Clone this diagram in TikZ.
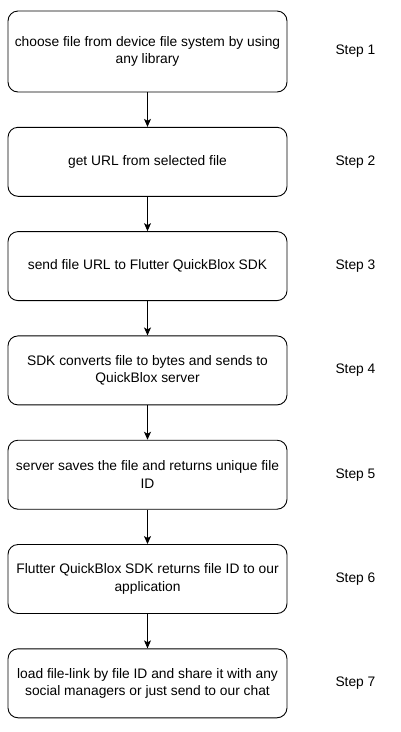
\documentclass[tikz,border=0pt]{standalone}
\usepackage{fontspec}
\setmainfont{Liberation Sans}
\usetikzlibrary{arrows.meta}
\usetikzlibrary{positioning}

\begin{document}
\begin{tikzpicture}[x=1pt,y=1pt,
  node distance=34.4pt,
  stepbox/.style={draw, rounded corners=10pt, line width=0.9pt,
    minimum width=279pt, minimum height=69pt, align=center,
    font=\fontsize{13.8}{17.5}\selectfont},
  steplabel/.style={font=\fontsize{13.8}{16}\selectfont},
  flow/.style={-{Stealth[length=8pt,width=7pt,inset=2pt]}, line width=0.9pt}]
  \useasboundingbox (0,0) rectangle (400,-732);
  % the seven boxes
  \node[stepbox, minimum height=81pt] (s1) at (147.5,-51.5)
    {choose file from device file system by using\\any library};
  \node[stepbox, below=of s1] (s2) {get URL from selected file};
  \node[stepbox, below=of s2] (s3) {send file URL to Flutter QuickBlox SDK};
  \node[stepbox, below=of s3] (s4)
    {SDK converts file to bytes and sends to\\QuickBlox server};
  \node[stepbox, below=of s4] (s5)
    {server saves the file and returns unique file\\ID};
  \node[stepbox, below=of s5] (s6)
    {Flutter QuickBlox SDK returns file ID to our\\application};
  \node[stepbox, below=of s6] (s7)
    {load file-link by file ID and share it with any\\social managers or just send to our chat};
  % step labels
  \node[steplabel] (l1) at ([xshift=68pt]s1.east) {Step 1};
  \node[steplabel] (l2) at ([xshift=68pt]s2.east) {Step 2};
  \node[steplabel] (l3) at ([xshift=68pt]s3.east) {Step 3};
  \node[steplabel] (l4) at ([xshift=68pt]s4.east) {Step 4};
  \node[steplabel] (l5) at ([xshift=68pt]s5.east) {Step 5};
  \node[steplabel] (l6) at ([xshift=68pt]s6.east) {Step 6};
  \node[steplabel] (l7) at ([xshift=68pt]s7.east) {Step 7};
  % arrows
  \draw[flow] (s1) -- (s2);
  \draw[flow] (s2) -- (s3);
  \draw[flow] (s3) -- (s4);
  \draw[flow] (s4) -- (s5);
  \draw[flow] (s5) -- (s6);
  \draw[flow] (s6) -- (s7);
\end{tikzpicture}
\end{document}
